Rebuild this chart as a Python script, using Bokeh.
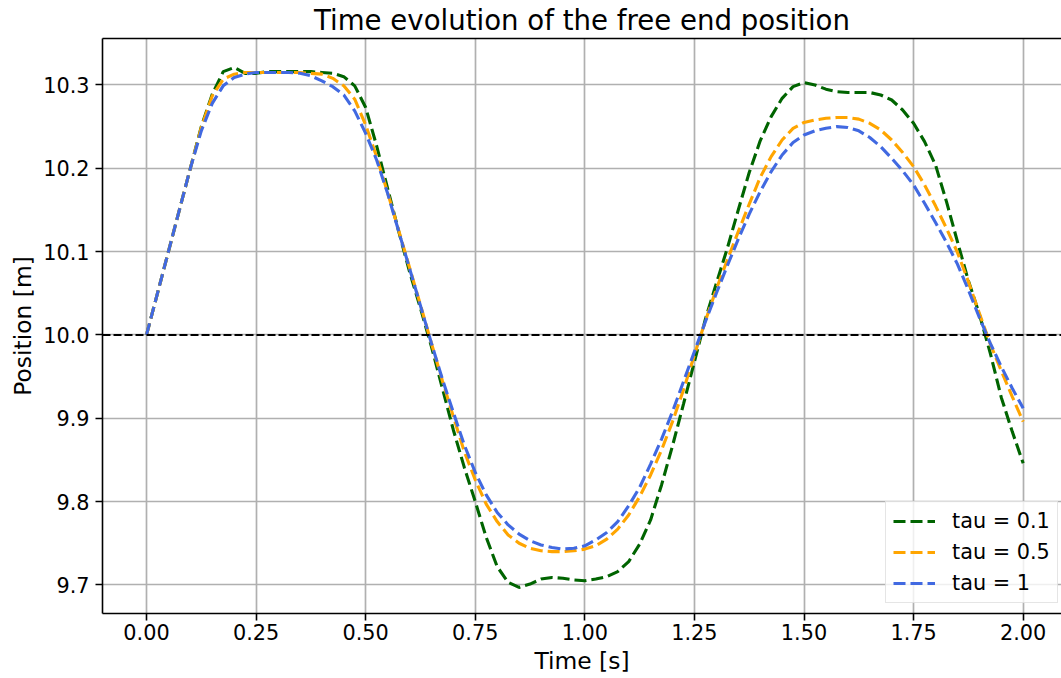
from bokeh.plotting import figure
from bokeh.models import (Span, Legend, LegendItem, LinearAxis, FixedTicker,
                          PrintfTickFormatter, Range1d, Grid)
from bokeh.embed import file_html
from bokeh.resources import INLINE

# ---- data -----------------------------------------------------------------
time_s = [0.000, 0.025, 0.050, 0.075, 0.100, 0.125, 0.150, 0.175, 0.200, 0.225,
          0.250, 0.275, 0.300, 0.325, 0.350, 0.375, 0.400, 0.425, 0.450, 0.475,
          0.500, 0.525, 0.550, 0.575, 0.600, 0.625, 0.650, 0.675, 0.700, 0.725,
          0.750, 0.775, 0.800, 0.825, 0.850, 0.875, 0.900, 0.925, 0.950, 0.975,
          1.000, 1.025, 1.050, 1.075, 1.100, 1.125, 1.150, 1.175, 1.200, 1.225,
          1.250, 1.275, 1.300, 1.325, 1.350, 1.375, 1.400, 1.425, 1.450, 1.475,
          1.500, 1.525, 1.550, 1.575, 1.600, 1.625, 1.650, 1.675, 1.700, 1.725,
          1.750, 1.775, 1.800, 1.825, 1.850, 1.875, 1.900, 1.925, 1.950, 1.975,
          2.000]

pos_tau_01 = [10.000, 10.050, 10.100, 10.150, 10.200, 10.250, 10.289, 10.316, 10.321, 10.314,
              10.314, 10.316, 10.316, 10.316, 10.316, 10.316, 10.315, 10.314, 10.310, 10.299,
              10.273, 10.227, 10.176, 10.125, 10.076, 10.032, 9.986, 9.936, 9.886, 9.841,
              9.800, 9.757, 9.722, 9.703, 9.697, 9.701, 9.707, 9.709, 9.708, 9.706,
              9.705, 9.707, 9.710, 9.716, 9.728, 9.749, 9.778, 9.820, 9.867, 9.917,
              9.968, 10.019, 10.062, 10.104, 10.150, 10.195, 10.233, 10.262, 10.284, 10.298,
              10.303, 10.300, 10.295, 10.292, 10.291, 10.291, 10.291, 10.288, 10.282, 10.270,
              10.254, 10.232, 10.204, 10.160, 10.112, 10.065, 10.025, 9.978, 9.925, 9.884,
              9.846]

pos_tau_05 = [10.000, 10.050, 10.100, 10.150, 10.200, 10.249, 10.287, 10.307, 10.313, 10.315,
              10.315, 10.315, 10.315, 10.315, 10.315, 10.314, 10.313, 10.308, 10.299, 10.283,
              10.252, 10.214, 10.171, 10.126, 10.081, 10.036, 9.990, 9.945, 9.902, 9.860,
              9.826, 9.797, 9.776, 9.760, 9.750, 9.744, 9.741, 9.740, 9.740, 9.741,
              9.743, 9.747, 9.755, 9.767, 9.784, 9.806, 9.832, 9.862, 9.896, 9.934,
              9.976, 10.017, 10.055, 10.090, 10.124, 10.157, 10.189, 10.214, 10.234, 10.248,
              10.255, 10.258, 10.260, 10.261, 10.261, 10.259, 10.254, 10.246, 10.234, 10.219,
              10.202, 10.180, 10.155, 10.128, 10.099, 10.064, 10.026, 9.989, 9.957, 9.926,
              9.896]

pos_tau_1 = [10.000, 10.050, 10.100, 10.150, 10.200, 10.245, 10.278, 10.299, 10.309, 10.313,
             10.315, 10.315, 10.315, 10.315, 10.314, 10.311, 10.305, 10.298, 10.288, 10.269,
             10.242, 10.210, 10.170, 10.125, 10.080, 10.035, 9.990, 9.947, 9.907, 9.868,
             9.835, 9.808, 9.787, 9.772, 9.761, 9.753, 9.748, 9.745, 9.743, 9.744,
             9.747, 9.754, 9.763, 9.776, 9.795, 9.817, 9.845, 9.875, 9.908, 9.944,
             9.980, 10.016, 10.050, 10.083, 10.115, 10.145, 10.172, 10.196, 10.216, 10.231,
             10.240, 10.245, 10.248, 10.250, 10.249, 10.245, 10.237, 10.226, 10.212, 10.197,
             10.180, 10.158, 10.135, 10.111, 10.085, 10.054, 10.021, 9.990, 9.962, 9.936,
             9.912]

series_labels = ["tau = 0.1", "tau = 0.5", "tau = 1"]
series_colors = ["#006400", "#FFA500", "#4169E1"]
x_ticks = [0.0, 0.25, 0.5, 0.75, 1.0, 1.25, 1.5, 1.75, 2.0]
y_ticks = [9.7, 9.8, 9.9, 10.0, 10.1, 10.2, 10.3]
reference_level = 10.0

FONT = "DejaVu Sans"

p = figure(width=1061, height=678, output_backend="svg", toolbar_location=None,
           x_range=Range1d(-0.1004, 2.0874), y_range=Range1d(9.6657, 10.3558),
           min_border_left=102, min_border_right=0, min_border_top=37,
           min_border_bottom=65, x_axis_location=None, y_axis_location=None)

p.title.text = "Time evolution of the free end position"
p.title.text_font = FONT
p.title.text_font_size = "27.6px"
p.title.text_font_style = "normal"
p.title.align = "center"
p.title.text_color = "#000000"
p.title.standoff = 3
p.title.offset = 3
p.outline_line_color = None
p.background_fill_color = "white"
p.border_fill_color = "white"


def style_axis(ax):
    ax.axis_line_color = "black"
    ax.axis_line_width = 1.6
    ax.major_tick_line_color = "black"
    ax.major_tick_line_width = 1.6
    ax.major_tick_out = 7
    ax.major_tick_in = 0
    ax.minor_tick_line_color = None
    ax.major_label_text_font = FONT
    ax.major_label_text_font_size = "20.8px"
    ax.major_label_text_color = "#000000"
    ax.axis_label_text_font = FONT
    ax.axis_label_text_font_size = "23.4px"
    ax.axis_label_text_font_style = "normal"
    ax.axis_label_text_color = "#000000"


xaxis = LinearAxis(axis_label="Time [s]", ticker=FixedTicker(ticks=x_ticks),
                   formatter=PrintfTickFormatter(format="%.2f"))
style_axis(xaxis)
xaxis.major_label_standoff = 3
xaxis.axis_label_standoff = 4
p.add_layout(xaxis, "below")

yaxis = LinearAxis(axis_label="Position [m]", ticker=FixedTicker(ticks=y_ticks),
                   formatter=PrintfTickFormatter(format="%.1f"))
style_axis(yaxis)
yaxis.major_label_standoff = 6
yaxis.axis_label_standoff = 3
p.add_layout(yaxis, "left")

top_axis = LinearAxis(ticker=FixedTicker(ticks=[]))
top_axis.axis_line_color = "black"
top_axis.axis_line_width = 1.6
top_axis.major_tick_line_color = None
top_axis.minor_tick_line_color = None
top_axis.major_tick_out = 0
top_axis.major_label_standoff = 0
top_axis.major_label_text_font_size = "0px"
p.add_layout(top_axis, "above")

p.xgrid.visible = False
p.ygrid.visible = False
p.add_layout(Grid(dimension=0, ticker=xaxis.ticker, grid_line_color="#b0b0b0",
                  grid_line_width=1.7))
p.add_layout(Grid(dimension=1, ticker=yaxis.ticker, grid_line_color="#b0b0b0",
                  grid_line_width=1.7))

p.add_layout(Span(location=reference_level, dimension="width", line_color="black",
                  line_width=2, line_dash="8 3"))

renderers = []
for vals, col in zip([pos_tau_01, pos_tau_05, pos_tau_1], series_colors):
    r = p.line(time_s, vals, line_color=col, line_width=3.1, line_dash="12 5")
    renderers.append(r)

legend = Legend(items=[LegendItem(label=lab, renderers=[r])
                       for lab, r in zip(series_labels, renderers)],
                location=(783, 10))
legend.label_text_font = FONT
legend.label_text_font_size = "20.8px"
legend.label_text_color = "#000000"
legend.glyph_width = 42
legend.glyph_height = 20
legend.label_standoff = 17
legend.padding = 7
legend.spacing = 7
legend.margin = 0
legend.border_line_color = "#cccccc"
legend.border_line_width = 1.5
legend.background_fill_color = "white"
legend.background_fill_alpha = 0.8
p.add_layout(legend, "center")

open("out.html", "w").write(file_html(p, INLINE))
